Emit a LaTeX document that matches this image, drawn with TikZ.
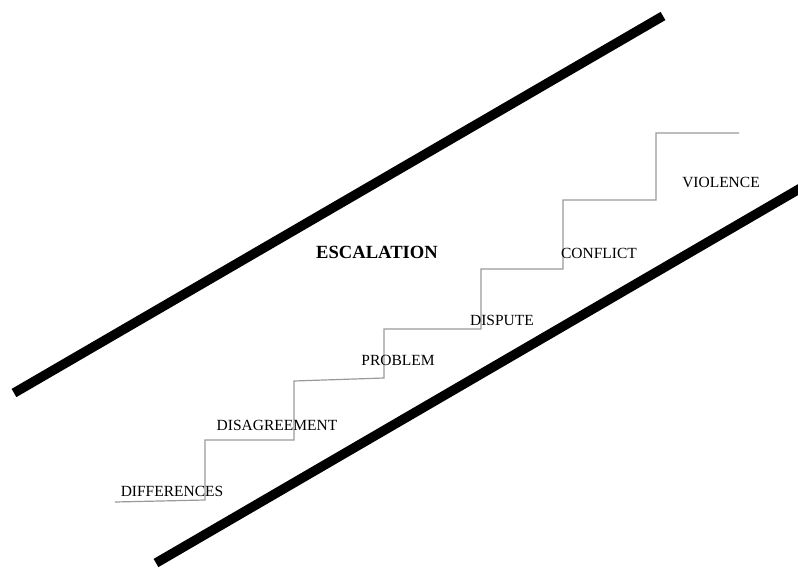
\documentclass[tikz,border=0pt]{standalone}
\usepackage{fontspec}
\setmainfont{Liberation Serif}
\begin{document}
\begin{tikzpicture}[x=1pt,y=-1pt,
  rail/.style={line width=9.5pt,black},
  stair/.style={line width=1.2pt,color=black!40},
  lbl/.style={font=\fontsize{15.5}{17}\selectfont,inner sep=0pt,anchor=center},
  ttl/.style={font=\fontsize{18.6}{20}\selectfont\bfseries,inner sep=0pt,anchor=center}]
\useasboundingbox (0,0) rectangle (798,568);
\coordinate (r1a) at (14,393);
\coordinate (r1b) at (663,16);
\coordinate (r2a) at (156,563);
\coordinate (r2b) at (806,185);
\begin{scope}
\clip (0,0) rectangle (798,568);
\draw[rail] (r1a) -- (r1b);
\draw[rail] (r2a) -- (r2b);
\end{scope}
\coordinate (s0) at (115,502);
\coordinate (s1) at (205,500);
\coordinate (s2) at (205,440);
\coordinate (s3) at (294,440);
\coordinate (s4) at (294,381);
\coordinate (s5) at (384,378);
\coordinate (s6) at (384,329);
\coordinate (s7) at (481,329);
\coordinate (s8) at (481,269);
\coordinate (s9) at (563,269);
\coordinate (s10) at (563,200);
\coordinate (s11) at (656,200);
\coordinate (s12) at (656,133);
\coordinate (s13) at (739,133);
\draw[stair] (s0) -- (s1) -- (s2) -- (s3) -- (s4) -- (s5) -- (s6) -- (s7) -- (s8) -- (s9) -- (s10) -- (s11) -- (s12) -- (s13);
\node[ttl] (esc) at (377,252) {ESCALATION};
\node[lbl] (dif) at (172,491) {DIFFERENCES};
\node[lbl] (dis) at (277,425) {DISAGREEMENT};
\node[lbl] (pro) at (398,360) {PROBLEM};
\node[lbl] (dsp) at (502,320) {DISPUTE};
\node[lbl] (con) at (599,253) {CONFLICT};
\node[lbl] (vio) at (721,182) {VIOLENCE};
\end{tikzpicture}
\end{document}
